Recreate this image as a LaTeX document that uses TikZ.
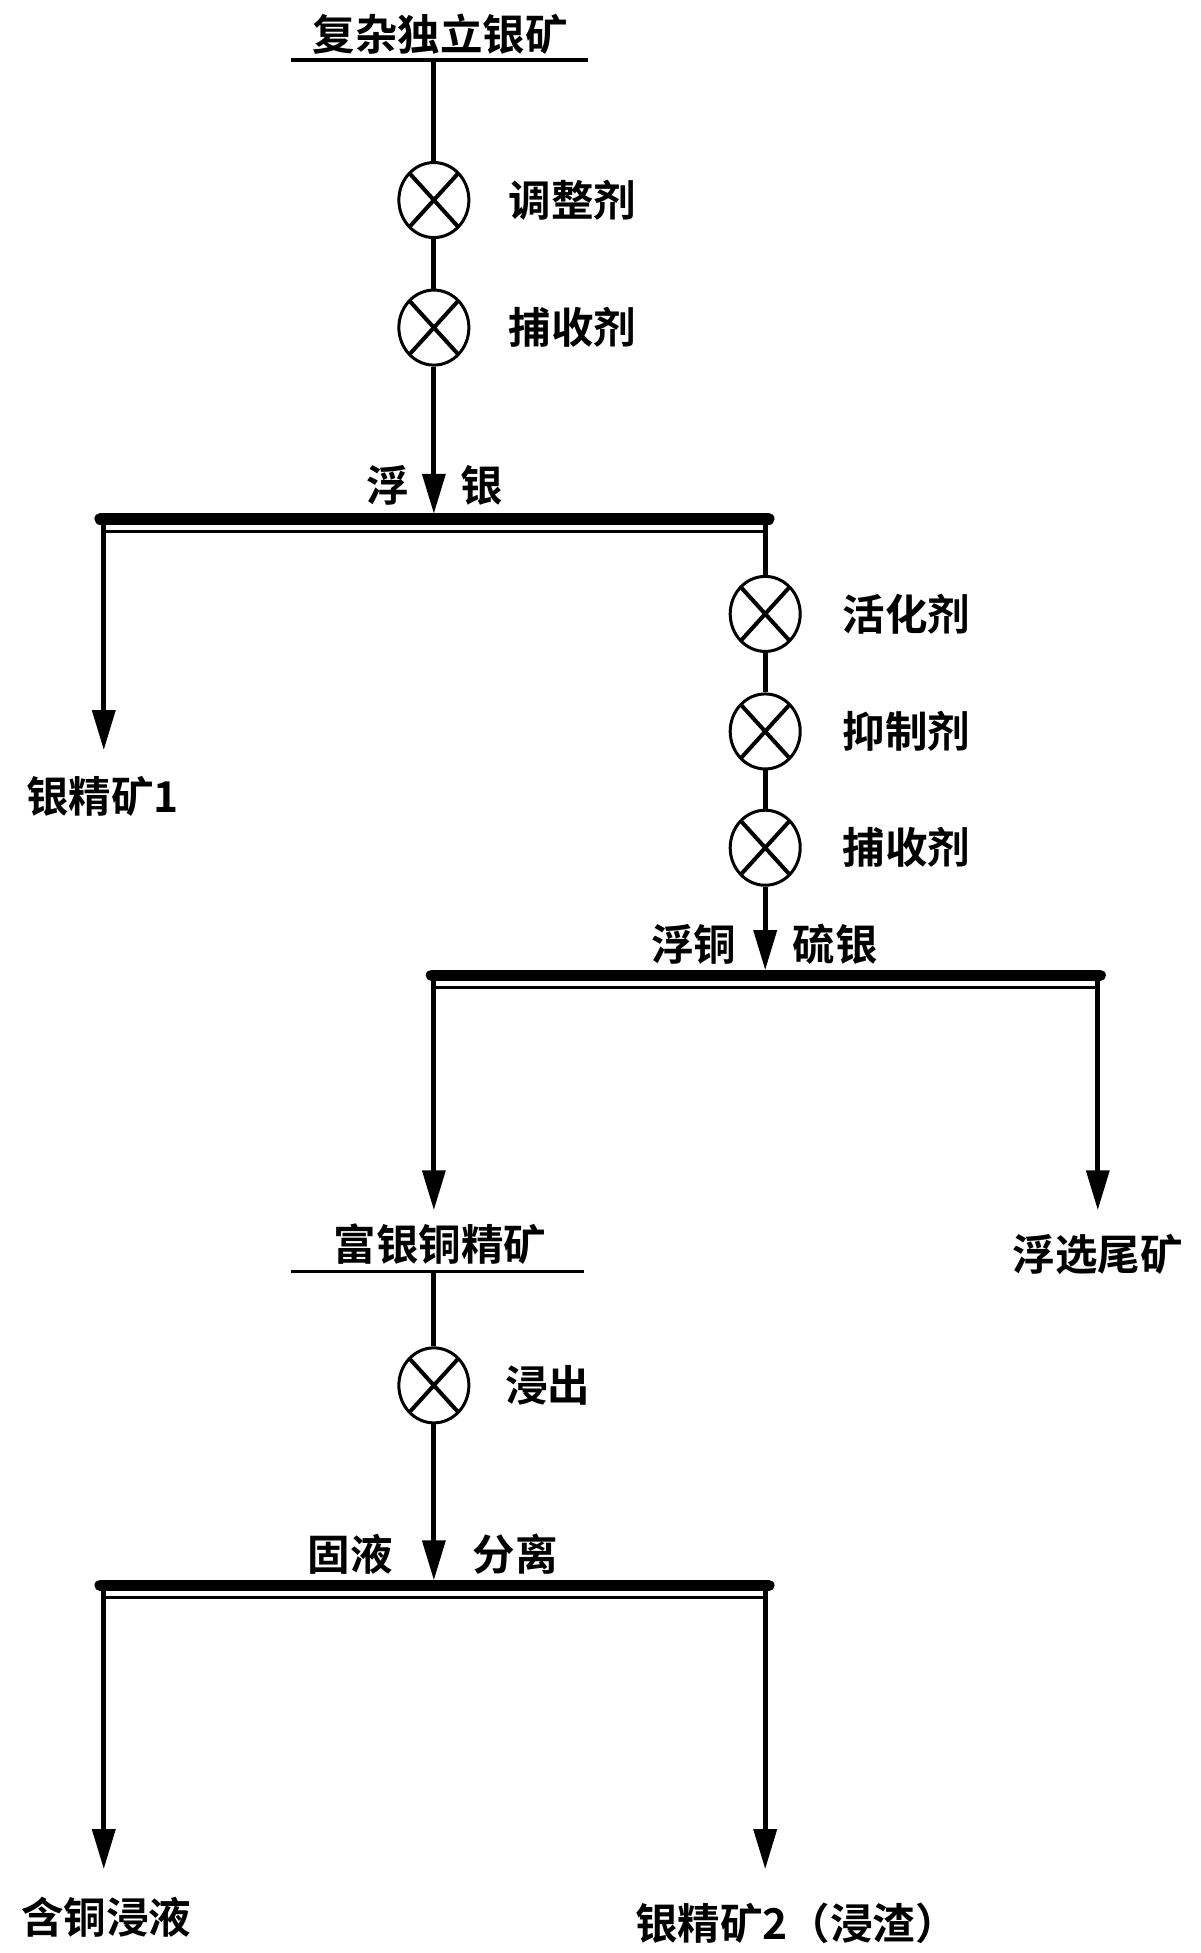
\documentclass[tikz,border=0pt]{standalone}
\usepackage{fontspec}
\setmainfont{Noto Sans CJK SC Bold}
\usetikzlibrary{shapes.geometric,arrows.meta}
\begin{document}
\begin{tikzpicture}[x=0.5pt,y=-0.5pt,
  flow/.style={line width=2pt},
  arr/.style={line width=2pt,-{Triangle[width=9pt,length=16pt]}},
  valve/.style={ellipse,draw,line width=1.2pt,fill=white,minimum width=28pt,minimum height=30pt,inner sep=0pt,
    path picture={\draw[line width=1.6pt] (path picture bounding box.north west)++(4pt,-4pt) -- ([shift={(-4pt,4pt)}]path picture bounding box.south east);
      \draw[line width=1.6pt] ([shift={(-4pt,-4pt)}]path picture bounding box.north east) -- ([shift={(4pt,4pt)}]path picture bounding box.south west);}},
  lab/.style={font=\fontsize{17}{17}\selectfont,inner sep=0pt},
  barthick/.style={line width=4.5pt,line cap=round},
  barthin/.style={line width=1.2pt}]
\useasboundingbox (0,0) rectangle (960,1562);
% top
\node[lab] (t1) at (352,27) {复杂独立银矿};
\draw[line width=1.5pt] (233,48) coordinate (u1a) -- (470,48) coordinate (u1b);
\coordinate (s1) at (347,48);
\node[valve] (v1) at (347,160) {};
\node[valve] (v2) at (347,262) {};
\node[lab] at (458,160) {调整剂};
\node[lab] at (458,262) {捕收剂};
\coordinate (b1c) at (347,411);
\draw[flow] (s1) -- (v1) (v1) -- (v2);
\draw[arr] (v2) -- (b1c);
\node[lab] at (310,388) {浮};
\node[lab] at (385,388) {银};
% bar1
\draw[barthick] (80,415) coordinate (b1l) -- (615,415) coordinate (b1r);
\draw[barthin] (83,425) -- (612,425);
\coordinate (d1l) at (83,600);
\draw[arr] (83,415) -- (d1l);
\node[lab] at (82,637) {银精矿1};
\node[valve] (v3) at (612,491) {};
\node[valve] (v4) at (612,585) {};
\node[valve] (v5) at (612,678) {};
\node[lab] at (725,491) {活化剂};
\node[lab] at (725,585) {抑制剂};
\node[lab] at (725,678) {捕收剂};
\draw[flow] (612,415) -- (v3) (v3) -- (v4) (v4) -- (v5);
\coordinate (b2c) at (612,776);
\draw[arr] (v5) -- (b2c);
\node[lab] at (555,755) {浮铜};
\node[lab] at (668,755) {硫银};
% bar2
\draw[barthick] (345,780) -- (880,780);
\draw[barthin] (347,790) -- (878,790);
\coordinate (d2l) at (347,968);
\coordinate (d2r) at (878,968);
\draw[arr] (347,780) -- (d2l);
\draw[arr] (878,780) -- (d2r);
\node[lab] (t2) at (352,995) {富银铜精矿};
\draw[line width=1.5pt] (233,1017) -- (467,1017);
\node[lab] at (878,1003) {浮选尾矿};
\node[valve] (v6) at (347,1108) {};
\node[lab] at (438,1108) {浸出};
\draw[flow] (347,1017) -- (v6);
\coordinate (b3c) at (347,1264);
\draw[arr] (v6) -- (b3c);
\node[lab] at (280,1243) {固液};
\node[lab] at (412,1243) {分离};
% bar3
\draw[barthick] (80,1268) -- (615,1268);
\draw[barthin] (83,1278) -- (612,1278);
\coordinate (d3l) at (83,1495);
\coordinate (d3r) at (612,1495);
\draw[arr] (83,1268) -- (d3l);
\draw[arr] (612,1268) -- (d3r);
\node[lab] at (85,1533) {含铜浸液};
\node[lab] at (637,1538) {银精矿2（浸渣）};
\end{tikzpicture}
\end{document}
